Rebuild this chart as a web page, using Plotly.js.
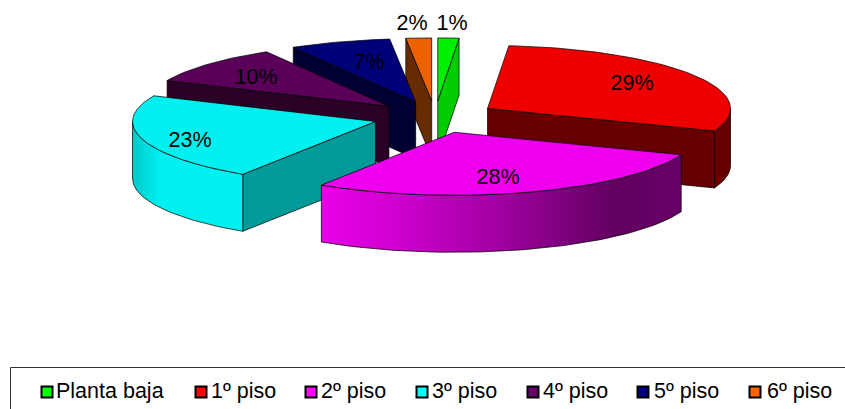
<!DOCTYPE html>
<html><head><meta charset="utf-8">
<script src="https://cdn.plot.ly/plotly-3.0.1.min.js"></script>
<style>html,body{margin:0;padding:0;background:#fff}#c{width:845px;height:409px}</style>
</head><body><div id="c"></div>
<script>
const categories = ['Planta baja','1º piso','2º piso','3º piso','4º piso','5º piso','6º piso'];
const values = [1.4, 29.4, 28.4, 22.5, 9.9, 6.7, 1.7];
const topColors = ['#00f000','#ee0000','#ee00ee','#00f0f0','#5a0058','#000078','#ee6000'];
const cutColors = ['#00cc00','#660000','#660066','#009b99','#2b0026','#000033','#662b00'];
const swatchColors = ['#00ff00','#ff0000','#ff00ff','#00ffff','#660066','#000080','#ff6600'];
const labelX = [452,632,498,190,256,369,412];
const labelY = [25,85,179,142,79,64,25];
const legendSwatchX = [47,201,311,422,533,643,755];
const legendTextX = [56,211,321,432,543,654,767];
const drawOrder = [6,5,4,0,1,3,2];

const cx=435, cy=117, rx=243, ry=63, depth=57, explode=0.255;
const rad=d=>d*Math.PI/180;
const total=values.reduce((a,b)=>a+b,0);
let acc=0;
const slices=values.map((v,i)=>{const a=acc/total*360; acc+=v; const b=acc/total*360;
  const m=rad((a+b)/2);
  return {i,a,b,ax:cx+explode*rx*Math.sin(m),ay:cy-explode*ry*Math.cos(m)};});
const pt=(s,d,dz=0)=>[s.ax+rx*Math.sin(rad(d)),s.ay-ry*Math.cos(rad(d))+dz];
const arc=(s,a,b,dz=0)=>{const o=[];const n=Math.max(2,Math.ceil((b-a)/1.5));
  for(let k=0;k<=n;k++)o.push(pt(s,a+(b-a)*k/n,dz));return o;};
const lineStyle={color:'rgba(0,0,0,0.72)',width:1};
const poly=(p,fill,extra={})=>{const c=p.concat([p[0]]);return Object.assign({
  type:'scatter',mode:'lines',x:c.map(q=>q[0]),y:c.map(q=>q[1]),fill:'toself',fillcolor:fill,
  line:lineStyle,hoverinfo:'skip',showlegend:false},extra);};
const gradients={
  2:[[0,'#e800e8'],[0.2,'#d000d0'],[0.5,'#a000a0'],[0.82,'#600060'],[1,'#680068']],
  3:[[0,'#00c8c8'],[0.25,'#00f0f0'],[1,'#00f0f0']]
};
const traces=[];
drawOrder.forEach(i=>{
  const s=slices[i], apex=[s.ax,s.ay];
  if(Math.sin(rad(s.a))<-1e-6){const e=pt(s,s.a);
    traces.push(poly([apex,e,[e[0],e[1]+depth],[apex[0],apex[1]+depth]],cutColors[i]));}
  if(Math.sin(rad(s.b))>1e-6){const e=pt(s,s.b);
    traces.push(poly([apex,e,[e[0],e[1]+depth],[apex[0],apex[1]+depth]],cutColors[i]));}
  const r0=Math.max(s.a,90), r1=Math.min(s.b,270);
  if(r1>r0){
    const p=arc(s,r0,r1).concat(arc(s,r0,r1,depth).reverse());
    const extra=gradients[i]?{fillgradient:{type:'horizontal',colorscale:gradients[i]}}:{};
    traces.push(poly(p,cutColors[i],extra));
  }
  traces.push(poly([apex].concat(arc(s,s.a,s.b)),topColors[i]));
});
traces.push({type:'scatter',mode:'text',x:labelX,y:labelY,
  text:values.map(v=>Math.round(v)+'%'),textposition:'middle center',
  textfont:{family:'Liberation Sans, Arial, sans-serif',size:21.5,color:'#000'},
  hoverinfo:'skip',showlegend:false});
categories.forEach((c,i)=>{
  traces.push({type:'scatter',mode:'markers',name:c,
    x:[legendSwatchX[i]],y:[392],
    marker:{symbol:'square',size:11,color:swatchColors[i],line:{color:'#000',width:2}},
    hoverinfo:'skip',showlegend:false});
  traces.push({type:'scatter',mode:'text',x:[legendTextX[i]],y:[393],text:[c],
    textposition:'middle right',
    textfont:{family:'Liberation Sans, Arial, sans-serif',size:21.5,color:'#000'},
    hoverinfo:'skip',showlegend:false});
});

Plotly.newPlot('c',traces,{
  width:845,height:409,margin:{l:0,r:0,t:0,b:0},
  paper_bgcolor:'#fff',plot_bgcolor:'#fff',showlegend:false,
  xaxis:{range:[0,845],visible:false,fixedrange:true},
  yaxis:{range:[409,0],visible:false,fixedrange:true},
  shapes:[{type:'rect',xref:'x',yref:'y',x0:10.5,x1:900,y0:367.5,y1:460,
    line:{color:'#333',width:1},fillcolor:'rgba(0,0,0,0)'}]
},{displayModeBar:false,staticPlot:true});
</script></body></html>
